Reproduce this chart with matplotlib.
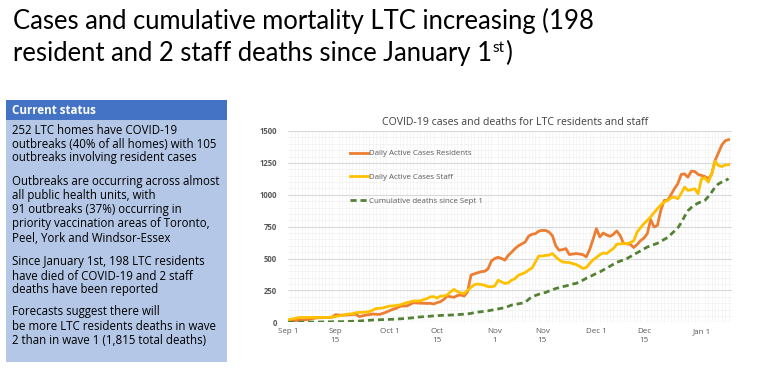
import matplotlib
matplotlib.use("Agg")
import matplotlib.pyplot as plt
from matplotlib.patches import Rectangle
from matplotlib.ticker import MultipleLocator, FixedLocator
import numpy as np

# ---------------- data ----------------
residents = [10, 12, 14, 15, 17, 20, 22, 28, 33, 36,
             36, 37, 38, 40, 60, 57, 55, 57, 58, 60,
             64, 45, 50, 57, 60, 65, 63, 62, 70, 80,
             92, 102, 110, 125, 128, 128, 140, 154, 152, 150,
             149, 148, 149, 144, 154, 162, 180, 206, 200, 196,
             210, 214, 206, 240, 371, 380, 389, 397, 400, 418,
             480, 500, 510, 500, 487, 526, 550, 578, 600, 615,
             630, 676, 690, 695, 715, 721, 720, 708, 680, 600,
             565, 570, 578, 531, 535, 539, 535, 531, 513, 570,
             650, 734, 669, 700, 685, 674, 690, 716, 680, 617,
             615, 612, 586, 610, 640, 660, 695, 805, 747, 760,
             878, 956, 956, 1000, 1047, 1086, 1159, 1164, 1138, 1185,
             1182, 1160, 1151, 1143, 1125, 1160, 1268, 1330, 1390, 1424,
             1432]
staff = [20, 25, 30, 36, 38, 38, 38, 37, 38, 38,
         38, 38, 39, 40, 45, 50, 55, 62, 65, 66,
         75, 78, 78, 80, 84, 95, 108, 110, 112, 120,
         128, 128, 132, 136, 145, 154, 160, 167, 167, 168,
         178, 185, 200, 201, 190, 206, 206, 215, 240, 258,
         240, 230, 226, 250, 275, 295, 300, 297, 290, 280,
         278, 285, 330, 317, 304, 310, 330, 343, 369, 380,
         390, 410, 426, 473, 520, 520, 525, 526, 539, 513,
         490, 473, 470, 469, 460, 453, 440, 422, 430, 460,
         490, 508, 530, 544, 539, 560, 578, 612, 615, 617,
         617, 625, 638, 708, 740, 773, 800, 826, 860, 891,
         920, 943, 956, 975, 982, 969, 1010, 1060, 1034, 1040,
         1047, 1008, 1125, 1133, 1099, 1164, 1263, 1229, 1221, 1234,
         1235]
deaths = [0, 0, 0, 0, 1, 1, 1, 2, 2, 2,
          3, 3, 4, 4, 5, 5, 5, 6, 7, 8,
          9, 10, 12, 14, 16, 18, 19, 20, 21, 22,
          23, 24, 25, 27, 29, 31, 33, 36, 40, 42,
          44, 46, 48, 50, 52, 54, 55, 56, 57, 58,
          60, 62, 64, 66, 70, 76, 80, 83, 86, 90,
          95, 100, 105, 110, 115, 125, 135, 141, 145, 150,
          157, 180, 201, 210, 220, 230, 234, 245, 255, 265,
          272, 279, 285, 292, 300, 305, 318, 330, 345, 357,
          370, 384, 395, 410, 425, 440, 455, 470, 480, 489,
          500, 515, 530, 545, 560, 575, 590, 600, 610, 620,
          635, 650, 665, 690, 715, 740, 780, 830, 875, 900,
          920, 935, 945, 956, 985, 1020, 1060, 1085, 1100, 1112,
          1125]
days = list(range(len(residents)))  # days since Sep 1

tick_days = [0, 14, 30, 44, 61, 75, 91, 105, 122]
tick_labels = ["Sep 1", "Sep\n15", "Oct 1", "Oct\n15", "Nov\n1", "Nov\n15",
               "Dec 1", "Dec\n15", "Jan 1"]
y_ticks = [0, 250, 500, 750, 1000, 1250, 1500]

series_names = ["Daily Active Cases Residents", "Daily Active Cases Staff",
                "Cumulative deaths since Sept 1"]

title_line1 = "Cases and cumulative mortality LTC increasing (198"
title_line2 = "resident and 2 staff deaths since January 1"

box_header = "Current status"
box_lines = [
    ("252 LTC homes have COVID-19", 130),
    ("outbreaks (40% of all homes) with 105", 144),
    ("outbreaks involving resident cases", 158),
    ("Outbreaks are occurring across almost", 181),
    ("all public health units, with", 195),
    ("91 outbreaks (37%) occurring in", 210),
    ("priority vaccination areas of Toronto,", 224),
    ("Peel, York and Windsor-Essex", 239),
    ("Since January 1st, 198 LTC residents", 262),
    ("have died of COVID-19 and 2 staff", 276),
    ("deaths have been reported", 290),
    ("Forecasts suggest there will", 312),
    ("be more LTC residents deaths in wave", 327),
    ("2 than in wave 1 (1,815 total deaths)", 341),
]

# ---------------- figure ----------------
W, H = 768, 377
fig = plt.figure(figsize=(W / 100, H / 100), dpi=100)
fig.patch.set_facecolor("white")

def fx(px):
    return px / W

def fy(py):
    return 1 - py / H

# ---- title ----
TFONT = ["Lato", "DejaVu Sans"]
t1 = fig.text(fx(13), fy(29), title_line1, fontsize=17, family=TFONT,
              color="#000000", ha="left", va="baseline")
fig.canvas.draw()
r = fig.canvas.get_renderer()
w = t1.get_window_extent(r).width
fs = 17 * 579 / w
t1.set_fontsize(fs)
t2 = fig.text(fx(13), fy(61), title_line2, fontsize=fs, family=TFONT,
              color="#000000", ha="left", va="baseline")
fig.canvas.draw()
bb = t2.get_window_extent(r)
x_end = bb.x1
t3 = fig.text(x_end / W + 0.5 / W, fy(61) + 9 / H, "st", fontsize=fs * 0.6,
              family=TFONT, color="#000000", ha="left", va="baseline")
fig.canvas.draw()
bb3 = t3.get_window_extent(r)
fig.text(bb3.x1 / W + 0.5 / W, fy(61), ")", fontsize=fs, family=TFONT,
         color="#000000", ha="left", va="baseline")

# ---- left status box ----
bx = fig.add_axes([fx(6), fy(362), fx(227) - fx(6), fy(100) - fy(362)])
bx.set_xlim(6, 227)
bx.set_ylim(362, 100)
bx.axis("off")
bx.add_patch(Rectangle((6, 100), 221, 262, facecolor="#B4C7E7", edgecolor="none"))
bx.add_patch(Rectangle((6, 100), 221, 20, facecolor="#4472C4", edgecolor="none"))
BFONT = ["Open Sans", "DejaVu Sans"]
bx.text(12.5, 110, box_header, fontsize=8.4, fontweight="bold", color="white",
        family=BFONT, ha="left", va="center")
for txt, yy in box_lines:
    bx.text(12.5, yy, txt, fontsize=8.3, color="#000000", family=BFONT,
            ha="left", va="center")

# ---- chart ----
ax = fig.add_axes([fx(288), fy(322.3), fx(732) - fx(288), fy(131) - fy(322.3)])
ax.set_xlim(0, 131)
ax.set_ylim(0, 1500)
ax.set_facecolor("white")

ax.plot(days, residents, color="#ED7D31", lw=2.0, label=series_names[0],
        solid_joinstyle="round", zorder=3)
ax.plot(days, staff, color="#FFC000", lw=2.0, label=series_names[1],
        solid_joinstyle="round", zorder=3)
ax.plot(days, deaths, color="#548235", lw=2.0, ls=(0, (2.2, 1.4)),
        label=series_names[2], zorder=3)

ax.yaxis.set_major_locator(FixedLocator(y_ticks))
ax.yaxis.set_minor_locator(MultipleLocator(50))
ax.xaxis.set_major_locator(FixedLocator(tick_days))
ax.xaxis.set_minor_locator(MultipleLocator(1))
ax.set_xticklabels(tick_labels)
ax.grid(which="major", axis="y", color="#D9D9D9", lw=0.8, zorder=0)
ax.grid(which="minor", axis="y", color="#F0F0F0", lw=0.5, zorder=0)
ax.grid(which="minor", axis="x", color="#F3F3F3", lw=0.5, zorder=0)
ax.set_axisbelow(True)
for s in ax.spines.values():
    s.set_visible(False)
ax.tick_params(which="both", length=0)
ax.tick_params(axis="y", pad=8, labelsize=5.6, labelcolor="#595959")
ax.tick_params(axis="x", pad=4, labelsize=5.8, labelcolor="#595959")
for lab in ax.get_yticklabels():
    lab.set_fontweight("bold")
    lab.set_family(BFONT)
for lab in ax.get_xticklabels():
    lab.set_family(BFONT)
    lab.set_linespacing(1.4)
    lab.set_va("top")

leg = ax.legend(loc="upper left", bbox_to_anchor=(0.139, 0.901), frameon=False,
                labelcolor="#595959", handlelength=2.3,
                handletextpad=0.1, labelspacing=2.05, borderaxespad=0,
                borderpad=0, prop={"family": BFONT, "size": 5.7})

fig.text(fx(515), fy(122), "COVID-19 cases and deaths for LTC residents and staff",
         fontsize=7.6, color="#404040", family=BFONT, ha="center", va="center")

fig.savefig("out.png", dpi=100, facecolor="white")
